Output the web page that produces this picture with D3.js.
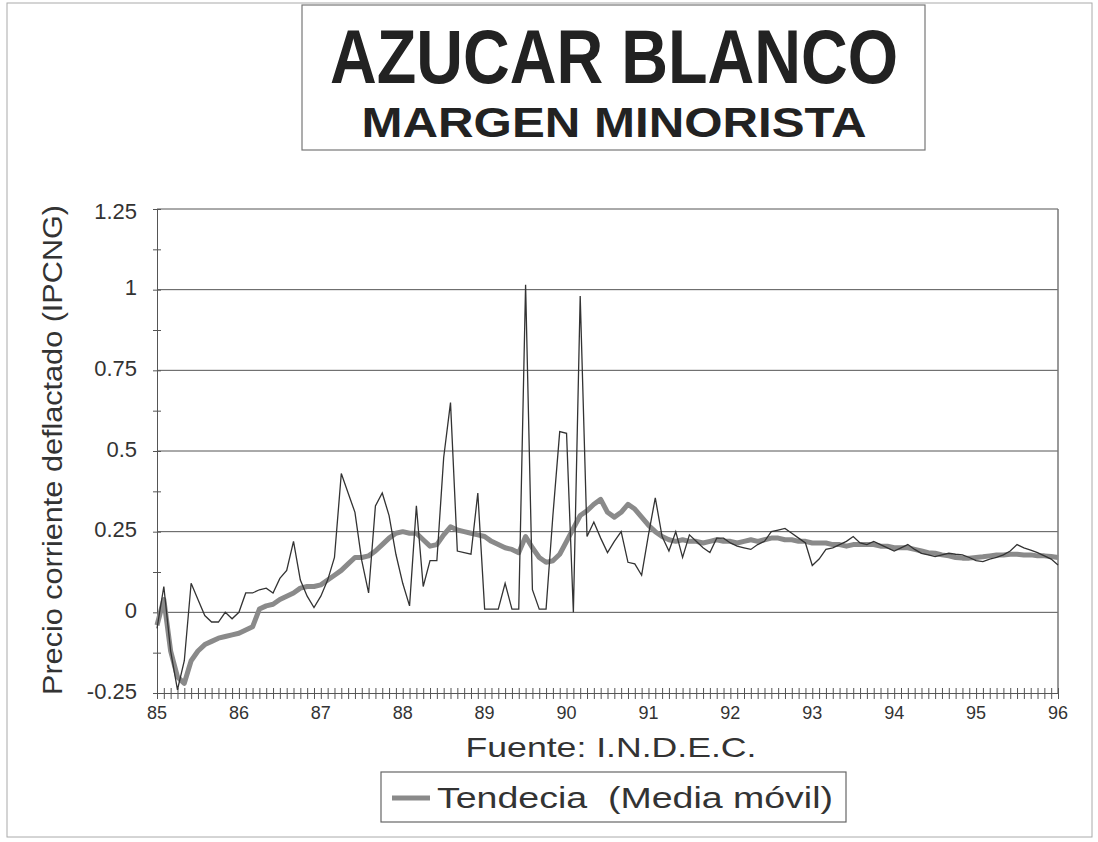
<!DOCTYPE html>
<html>
<head>
<meta charset="utf-8">
<script src="https://cdn.jsdelivr.net/npm/d3@7"></script>
<style>
  body { margin: 0; background: #fff; }
  svg { display: block; font-family: 'Liberation Sans', Arial, sans-serif; }
</style>
</head>
<body>
<div id="chart"></div>
<script>
// monthly values, Jan 85 .. Jan 96
const precio = [
  -0.05, 0.08, -0.12, -0.24, -0.15, 0.09, 0.04, -0.01, -0.03, -0.03, 0.0, -0.02,
  0.0, 0.06, 0.06, 0.07, 0.075, 0.06, 0.105, 0.13, 0.22, 0.1, 0.05, 0.015,
  0.05, 0.1, 0.17, 0.43, 0.37, 0.31, 0.16, 0.06, 0.33, 0.37, 0.3, 0.18,
  0.09, 0.02, 0.33, 0.08, 0.16, 0.16, 0.48, 0.65, 0.19, 0.185, 0.18, 0.37,
  0.01, 0.01, 0.01, 0.09, 0.01, 0.01, 1.015, 0.07, 0.01, 0.01, 0.3, 0.56,
  0.555, 0.0, 0.98, 0.235, 0.28, 0.23, 0.185, 0.22, 0.25, 0.155, 0.15, 0.115,
  0.24, 0.355, 0.235, 0.19, 0.25, 0.17, 0.24, 0.22, 0.2, 0.185, 0.23, 0.23,
  0.215, 0.205, 0.2, 0.195, 0.21, 0.22, 0.25, 0.255, 0.26, 0.245, 0.23, 0.215,
  0.145, 0.165, 0.195, 0.2, 0.21, 0.22, 0.235, 0.215, 0.21, 0.22, 0.21, 0.2,
  0.19, 0.2, 0.21, 0.195, 0.183, 0.178, 0.173, 0.178, 0.183, 0.18, 0.178, 0.17,
  0.16, 0.157, 0.165, 0.17, 0.178, 0.19, 0.21, 0.2, 0.193, 0.185, 0.175, 0.165,
  0.147
];
const tendencia = [
  -0.04, 0.04, -0.12, -0.2, -0.22, -0.15, -0.12, -0.1, -0.09, -0.08, -0.075, -0.07,
  -0.065, -0.055, -0.045, 0.01, 0.02, 0.025, 0.04, 0.05, 0.06, 0.075, 0.08, 0.08,
  0.085, 0.1, 0.115, 0.13, 0.15, 0.17, 0.17, 0.175, 0.19, 0.21, 0.23, 0.245,
  0.25, 0.245, 0.245, 0.225, 0.205, 0.21, 0.24, 0.265, 0.255, 0.25, 0.245, 0.24,
  0.235, 0.22, 0.21, 0.2, 0.195, 0.185, 0.235, 0.2, 0.17, 0.155, 0.16, 0.18,
  0.22, 0.26, 0.3, 0.315, 0.335, 0.35, 0.31, 0.295, 0.31, 0.335, 0.32, 0.295,
  0.27, 0.25, 0.235, 0.225, 0.22, 0.225, 0.22, 0.22, 0.215, 0.22, 0.225, 0.22,
  0.22, 0.215, 0.22, 0.225, 0.22, 0.225, 0.23, 0.23, 0.225, 0.225, 0.22, 0.22,
  0.215, 0.215, 0.215, 0.21, 0.21, 0.205, 0.21, 0.21, 0.21, 0.21, 0.205, 0.205,
  0.2, 0.2, 0.2, 0.195, 0.19, 0.185, 0.183, 0.178, 0.175, 0.17, 0.168, 0.168,
  0.17, 0.172, 0.175, 0.178, 0.178, 0.18, 0.18, 0.178, 0.178, 0.175, 0.175, 0.173,
  0.17
];
const years = [85, 86, 87, 88, 89, 90, 91, 92, 93, 94, 95, 96];
const yTicks = [-0.25, 0, 0.25, 0.5, 0.75, 1, 1.25];

const W = 1098, H = 842;
const margin = { top: 209, right: 35, bottom: 149, left: 157 };

const svg = d3.select('#chart')
  .append('svg')
  .attr('width', W)
  .attr('height', H);

// outer frame
svg.append('rect')
  .attr('x', 7).attr('y', 3)
  .attr('width', 1085).attr('height', 834)
  .attr('fill', 'none')
  .attr('stroke', '#aaa')
  .attr('stroke-width', 1);

// title box
svg.append('rect')
  .attr('x', 302).attr('y', 5)
  .attr('width', 623).attr('height', 145)
  .attr('fill', 'none')
  .attr('stroke', '#777')
  .attr('stroke-width', 1.2);
svg.append('text')
  .attr('x', 614).attr('y', 83)
  .attr('text-anchor', 'middle')
  .attr('font-size', 76)
  .attr('font-weight', 'bold')
  .attr('fill', '#222')
  .attr('textLength', 568)
  .attr('lengthAdjust', 'spacingAndGlyphs')
  .text('AZUCAR BLANCO');
svg.append('text')
  .attr('x', 614).attr('y', 137)
  .attr('text-anchor', 'middle')
  .attr('font-size', 42)
  .attr('font-weight', 'bold')
  .attr('fill', '#222')
  .attr('textLength', 505)
  .attr('lengthAdjust', 'spacingAndGlyphs')
  .text('MARGEN MINORISTA');

// scales
const x = d3.scaleLinear()
  .domain([85, 96])
  .range([margin.left, W - margin.right - 5]);
const y = d3.scaleLinear()
  .domain([-0.25, 1.25])
  .range([H - margin.bottom, margin.top]);

// gridlines
svg.append('g')
  .selectAll('line')
  .data(yTicks.filter(d => d > -0.25))
  .join('line')
  .attr('x1', x(85)).attr('x2', x(96))
  .attr('y1', d => y(d)).attr('y2', d => y(d))
  .attr('stroke', '#555')
  .attr('stroke-width', 1);
// right border
svg.append('line')
  .attr('x1', x(96)).attr('x2', x(96))
  .attr('y1', y(1.25)).attr('y2', y(-0.25))
  .attr('stroke', '#777')
  .attr('stroke-width', 1.5);

// Y axis
const yAxis = d3.axisLeft(y)
  .tickValues(d3.range(-0.25, 1.2501, 0.125))
  .tickSize(0)
  .tickFormat('');
svg.append('g')
  .attr('transform', 'translate(' + x(85) + ',0)')
  .call(yAxis)
  .call(g => g.select('.domain').attr('stroke', '#555'))
  .call(g => g.selectAll('.tick line')
    .attr('x1', -4).attr('x2', 4)
    .attr('stroke', '#555'));
svg.append('g')
  .selectAll('text')
  .data(yTicks)
  .join('text')
  .attr('x', 137)
  .attr('y', d => y(d) + (d === 1.25 ? 4 : 0))
  .attr('text-anchor', 'end')
  .attr('dominant-baseline', 'middle')
  .attr('font-size', 22)
  .attr('fill', '#333')
  .text(d => String(d));

// X axis: monthly ticks
const xAxis = d3.axisBottom(x)
  .tickValues(d3.range(0, 133).map(m => 85 + m / 12))
  .tickSize(0)
  .tickFormat('');
svg.append('g')
  .attr('transform', 'translate(0,' + y(-0.25) + ')')
  .call(xAxis)
  .call(g => g.select('.domain').attr('stroke', '#555'))
  .call(g => g.selectAll('.tick line')
    .attr('y1', -5).attr('y2', 6)
    .attr('stroke', '#555'));
svg.append('g')
  .selectAll('text')
  .data(years)
  .join('text')
  .attr('x', d => x(d))
  .attr('y', 719)
  .attr('text-anchor', 'middle')
  .attr('font-size', 18)
  .attr('fill', '#333')
  .text(d => d);

// y label
svg.append('text')
  .attr('transform', 'translate(62,450) rotate(-90)')
  .attr('text-anchor', 'middle')
  .attr('font-size', 27)
  .attr('fill', '#333')
  .attr('textLength', 490)
  .attr('lengthAdjust', 'spacingAndGlyphs')
  .text('Precio corriente deflactado (IPCNG)');

// lines
const monthX = (d, i) => x(85 + i / 12);
const line = d3.line()
  .x(monthX)
  .y(d => y(d));
svg.append('path')
  .datum(tendencia)
  .attr('fill', 'none')
  .attr('stroke', '#8a8a8a')
  .attr('stroke-width', 5)
  .attr('stroke-linejoin', 'round')
  .attr('d', line);
svg.append('path')
  .datum(precio)
  .attr('fill', 'none')
  .attr('stroke', '#333')
  .attr('stroke-width', 1.3)
  .attr('d', line);

// source
svg.append('text')
  .attr('x', 611).attr('y', 757)
  .attr('text-anchor', 'middle')
  .attr('font-size', 28)
  .attr('fill', '#333')
  .attr('textLength', 291)
  .attr('lengthAdjust', 'spacingAndGlyphs')
  .text('Fuente: I.N.D.E.C.');

// legend
svg.append('rect')
  .attr('x', 381).attr('y', 772)
  .attr('width', 465).attr('height', 50)
  .attr('fill', 'none')
  .attr('stroke', '#666')
  .attr('stroke-width', 1.2);
svg.append('line')
  .attr('x1', 392).attr('x2', 430)
  .attr('y1', 798).attr('y2', 798)
  .attr('stroke', '#8a8a8a')
  .attr('stroke-width', 5);
svg.append('text')
  .attr('x', 437).attr('y', 808)
  .attr('font-size', 30)
  .attr('fill', '#333')
  .attr('textLength', 396)
  .attr('lengthAdjust', 'spacingAndGlyphs')
  .style('white-space', 'pre')
  .text('Tendecia  (Media móvil)');
</script>
</body>
</html>
